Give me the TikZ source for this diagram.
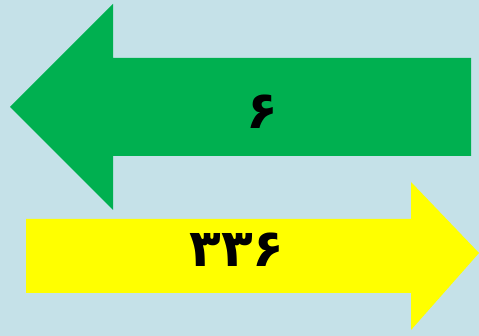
\documentclass[tikz,border=0pt]{standalone}
\usepackage{fontspec}
\newfontfamily\arabicfont[Script=Arabic]{DejaVu Sans}
\usetikzlibrary{positioning}
\definecolor{bgblue}{RGB}{197,225,232}
\definecolor{arrgreen}{RGB}{0,176,80}
\definecolor{arryellow}{RGB}{255,255,0}
\tikzset{
  bigarrow/.style={fill=#1, draw=none},
  numlabel/.style={font=\arabicfont\bfseries\fontsize{52}{60}\selectfont, text=black, inner sep=0pt}
}

\begin{document}
\begin{tikzpicture}[x=1pt, y=-1pt]
  % background
  \fill[bgblue] (0,0) rectangle (479,336);
  \useasboundingbox (0,0) rectangle (479,336);
  % green arrow, pointing left
  \fill[bigarrow=arrgreen] (10,107) -- (113,4) -- (113,58) -- (471,58)
    -- (471,156) -- (113,156) -- (113,210) -- cycle;
  % yellow arrow, pointing right
  \fill[bigarrow=arryellow] (26,219) -- (411,219) -- (411,182) -- (479,253)
    -- (411,330) -- (411,293) -- (26,293) -- cycle;
  \node[numlabel] (six) at (262,112) {۶};
  \node[numlabel] (num) at (237,250) {۳۳۶};
\end{tikzpicture}
\end{document}
